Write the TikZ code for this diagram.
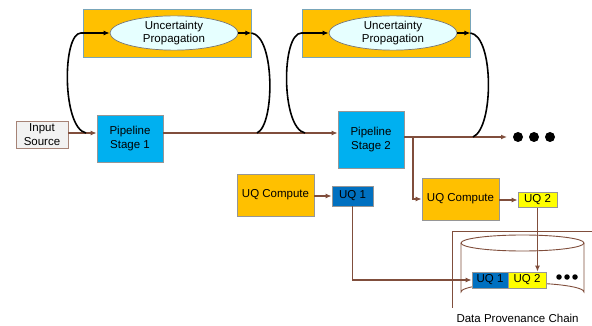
\documentclass[tikz,border=0pt]{standalone}
\usepackage{fontspec}
\setmainfont{Liberation Sans}
\usetikzlibrary{shapes.geometric, arrows.meta}

\definecolor{uqorange}{RGB}{255,192,0}
\definecolor{uqcyan}{RGB}{0,176,240}
\definecolor{uqblue}{RGB}{0,112,192}
\definecolor{uqyellow}{RGB}{255,255,0}
\definecolor{uqpale}{RGB}{230,255,255}
\definecolor{flowbrown}{RGB}{128,78,60}
\definecolor{edgegray}{RGB}{150,150,150}
\definecolor{edgeblue}{RGB}{120,165,185}

\begin{document}
\begin{tikzpicture}[x = 1pt, y = -1pt,
  font = \fontsize{11.5}{13.5}\selectfont,
  box/.style = {rectangle, line width = 0.7pt, draw = edgegray, inner sep = 0pt, align = center},
  propbox/.style = {rectangle, line width = 0.9pt, draw = edgeblue, fill = uqorange, inner sep = 0pt, minimum width = 168pt, minimum height = 48pt},
  prop/.style = {ellipse, line width = 0.7pt, draw = edgegray!80!black, fill = uqpale, inner sep = 0pt, minimum width = 128pt, minimum height = 34pt, align = center},
  flow/.style = {draw = flowbrown, line width = 1.6pt, -{Latex[length = 6pt, width = 5pt]}},
  loop/.style = {draw = black, line width = 1.6pt},
  uarrow/.style = {draw = black, line width = 1.6pt, -{Latex[length = 6pt, width = 5pt]}},
  chainline/.style = {draw = flowbrown, line width = 0.9pt},
  blob/.style = {circle, fill = black, inner sep = 0pt}]

\useasboundingbox (0, 0) rectangle (592, 326);

% uncertainty propagation
\node[propbox] (prop1box) at (167, 33) {};
\node[prop] (prop1) at (174, 33) {Uncertainty\\Propagation};
\node[propbox] (prop2box) at (386, 33) {};
\node[prop] (prop2) at (393, 33) {Uncertainty\\Propagation};

% pipeline
\node[box, draw = flowbrown!70, fill = gray!10, minimum width = 52pt, minimum height = 27pt] (src) at (42, 134.5) {Input\\Source};
\node[box, fill = uqcyan, minimum width = 66pt, minimum height = 47pt] (st1) at (130, 138.5) {Pipeline\\Stage 1};
\node[box, fill = uqcyan, minimum width = 66pt, minimum height = 57pt] (st2) at (371, 139.5) {Pipeline\\Stage 2};

% uq
\node[box, fill = uqorange, minimum width = 77pt, minimum height = 42pt] (uqc1) at (275.5, 195) {UQ Compute};
\node[box, fill = uqblue, minimum width = 41pt, minimum height = 20pt] (uq1) at (352.5, 196) {UQ 1};
\node[box, fill = uqorange, minimum width = 77pt, minimum height = 42pt] (uqc2) at (460.5, 199) {UQ Compute};
\node[box, fill = uqyellow, minimum width = 39pt, minimum height = 15pt] (uq2) at (537.5, 200) {UQ 2};

% provenance chain
\draw[chainline] (592, 231) -- (452, 231) -- (452, 308);
\draw[chainline] (461, 243) -- (461, 292) arc[start angle = 180, end angle = 360, x radius = 61.5, y radius = 9] -- (584, 243);
\draw[chainline] (522.5, 243) ellipse[x radius = 61.5, y radius = 8];
\node[box, fill = uqblue, minimum width = 36pt, minimum height = 16pt] (cuq1) at (490, 280) {UQ 1};
\node[box, fill = uqyellow, minimum width = 38pt, minimum height = 16pt] (cuq2) at (527, 280) {UQ 2};
\node[blob, minimum size = 5.5pt] (c1) at (559, 277) {};
\node[blob, minimum size = 5.5pt] (c2) at (567, 277) {};
\node[blob, minimum size = 5.5pt] (c3) at (575, 277) {};
\node[anchor = west] (chain) at (453, 318) {Data Provenance Chain};

% more stages
\node[blob, minimum size = 10pt] (d1) at (518, 137) {};
\node[blob, minimum size = 10pt] (d2) at (534, 137) {};
\node[blob, minimum size = 10pt] (d3) at (550, 137) {};

\coordinate (j1) at (86, 133);
\coordinate (k1) at (257, 133);
\coordinate (j2) at (305, 133);
\coordinate (k2) at (473, 137);
\coordinate (br) at (413, 137);
\coordinate (tip) at (507, 137);

\draw[flow] (src.east |- j1) -- (st1.west |- j1);
\draw[flow] (st1.east |- j1) -- (st2.west |- j1);
\draw[flow] (st2.east |- k2) -- (tip);
\draw[flow] (br) |- (uqc2.west);
\draw[flow] (uqc1.east |- uq1) -- (uq1.west);
\draw[flow] (uqc2.east |- uq2) -- (uq2.west);
\draw[flow] (uq1.south) |- (cuq1.west);
\draw[flow] (uq2.south) -- (uq2.south |- cuq2.north);

\draw[uarrow] (j1) .. controls (62, 128) and (62, 33) .. (81, 33) -- (prop1.west);
\draw[uarrow] (prop1.east) -- (prop1box.east);
\draw[loop] (prop1box.east) .. controls (275, 36) and (275, 125) .. (k1);
\draw[uarrow] (j2) .. controls (281, 128) and (281, 33) .. (prop2box.west) -- (prop2.west);
\draw[uarrow] (prop2.east) -- (prop2box.east);
\draw[loop] (prop2box.east) .. controls (494, 36) and (494, 128) .. (k2);

\end{tikzpicture}
\end{document}
